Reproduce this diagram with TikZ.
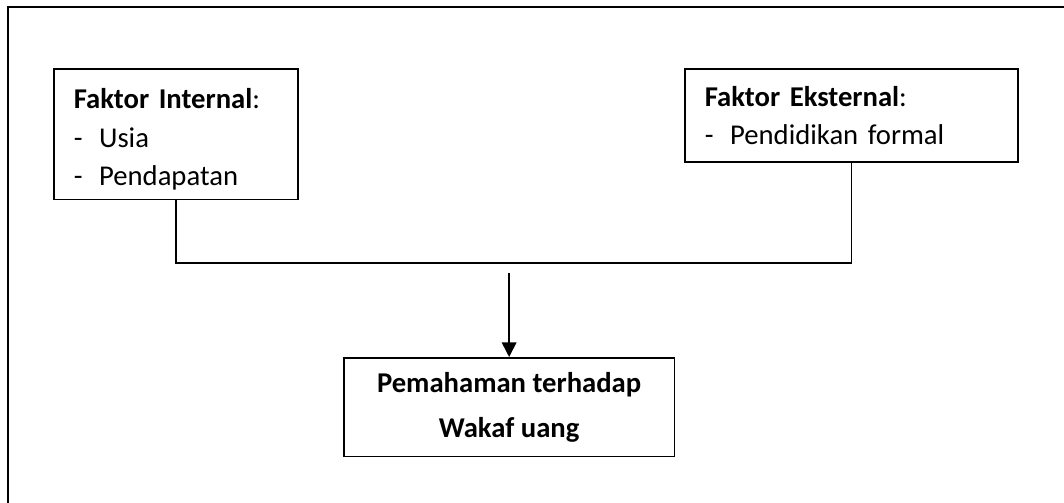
\documentclass[tikz,border=0pt]{standalone}
\usepackage{fontspec}
\setmainfont{Carlito}
\usepackage{tikz}
\usetikzlibrary{arrows.meta, positioning}

\begin{document}
\begin{tikzpicture}[
        x=0.75pt, y=-0.75pt,
        factor/.style={rectangle, draw=black, line width=1.2pt, anchor=north west, inner xsep=15pt, inner ysep=0pt, align=left, font=\fontsize{21.5}{29}\selectfont},
        result/.style={rectangle, draw=black, line width=1.2pt, anchor=north west, inner sep=0pt, align=center, font=\bfseries\fontsize{21.5}{34}\selectfont},
        link/.style={line width=1.2pt},
        arrow/.style={line width=1.2pt, -{Triangle[width=11pt, length=11pt]}}
    ]
        \useasboundingbox (0,0) rectangle (1064,503);
        \draw[link] (8,503) -- (8,7) -- (1064,7);

        \node[factor, minimum width=183pt, minimum height=98pt, text width=153pt] (internal) at (53,68)
            {\rule{0pt}{23pt}\textbf{Faktor Internal}:\\\makebox[19pt][l]{-}Usia\\\makebox[19pt][l]{-}Pendapatan};
        \node[factor, minimum width=250pt, minimum height=70pt, text width=220pt] (eksternal) at (684,68)
            {\textbf{Faktor Eksternal}:\\\makebox[19pt][l]{-}Pendidikan formal};
        \node[result, minimum width=248pt, minimum height=74pt] (paham) at (343,357)
            {Pemahaman terhadap\\Wakaf uang};

        \draw[link] (internal.south) -- ++(0,63) -| (eksternal.south);
        \coordinate (split) at (paham.north |- 0,273);
        \draw[arrow] (split) -- (paham);
    \end{tikzpicture}
\end{document}
